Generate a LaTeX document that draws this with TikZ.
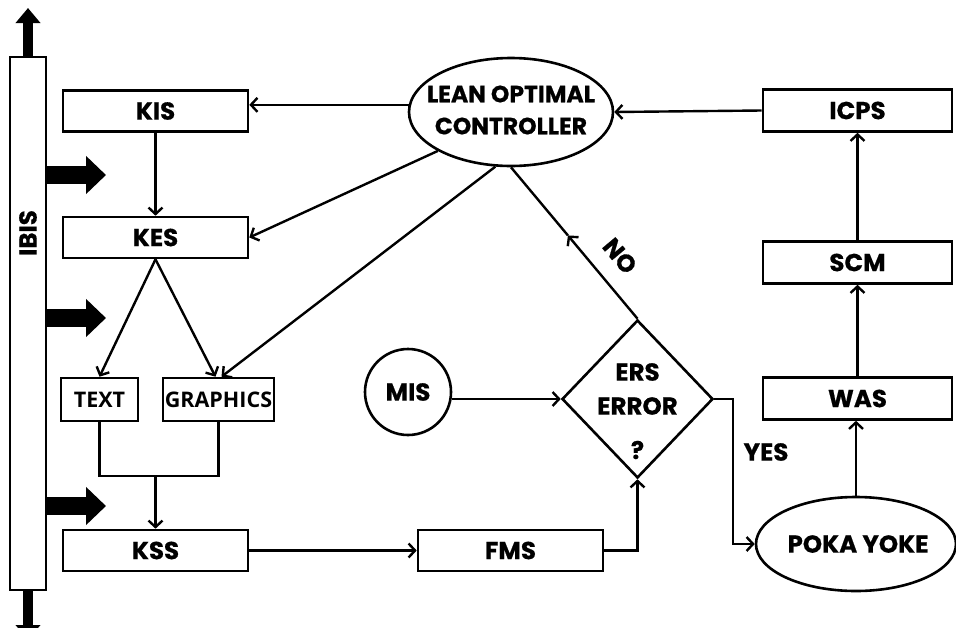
\documentclass[tikz,border=0pt]{standalone}
\usepackage{fontspec}
\setmainfont{Poppins}[BoldFeatures={FakeBold=0.6}]
\newfontfamily\osans{Open Sans}
\usetikzlibrary{shapes.geometric,arrows.meta,calc}
\begin{document}
\begin{tikzpicture}[x=1pt,y=-1pt,line width=2.4pt,
  lbl/.style={font=\fontsize{24.5}{28}\selectfont\bfseries},
  box/.style={draw,line width=2.6pt,minimum width=185pt,minimum height=41pt,inner sep=0pt,lbl},
  rbox/.style={box,minimum width=189pt,minimum height=42pt},
  sbox/.style={draw,line width=2.6pt,minimum height=43pt,inner sep=0pt,font=\osans\fontsize{21.5}{25}\selectfont\bfseries},
  oval/.style={draw,ellipse,line width=2.6pt,inner sep=0pt,lbl},
  arr/.style={-{Straight Barb[length=6.5pt,width=14pt,line width=2.4pt]}},
  fat/.style={line width=18pt,-{Triangle[length=20pt,width=37pt]}},
  vfat/.style={line width=10pt,-{Triangle[length=15pt,width=24pt]}},
]
\useasboundingbox (0,0) rectangle (956,627);
% IBIS bar
\node[draw,line width=2.6pt,minimum width=36pt,minimum height=533pt,inner sep=0pt] (ibis) at (28,323.5) {};
\node[lbl,rotate=90] (ibist) at (28,233) {IBIS};
\draw[vfat] (ibis.north) -- (28,8);
\draw[vfat] (ibis.south) -- (28,640);
\coordinate (f1) at (106,175);
\coordinate (f2) at (106,318);
\coordinate (f3) at (106,506);
\draw[fat] (ibis.east |- f1) -- (f1);
\draw[fat] (ibis.east |- f2) -- (f2);
\draw[fat] (ibis.east |- f3) -- (f3);
% left column
\node[box] (kis) at (155.5,111) {KIS};
\node[box] (kes) at (155.5,237.5) {KES};
\node[sbox,minimum width=77pt] (text) at (99.5,399.5) {TEXT};
\node[sbox,minimum width=111pt] (graphics) at (218.5,399.5) {GRAPHICS};
\node[box] (kss) at (155.5,550.5) {KSS};
\node[box] (fms) at (510.5,550.5) {FMS};
% centre
\node[oval,minimum width=204pt,minimum height=108pt] (loc) at (511,112) {};
\node[lbl,font=\fontsize{23.5}{28}\selectfont\bfseries] (loc1) at (511,94) {LEAN OPTIMAL};
\node[lbl,font=\fontsize{23.5}{28}\selectfont\bfseries] (loc2) at (511,126) {CONTROLLER};
\node[draw,circle,line width=2.6pt,minimum size=86pt,inner sep=0pt,lbl] (mis) at (408,392) {MIS};
\node[draw,diamond,line width=2.6pt,minimum width=151pt,minimum height=158pt,inner sep=0pt] (dia) at (637.5,399) {};
\node[lbl] (ers) at (637.5,372) {ERS};
\node[lbl] (err) at (637.5,406) {ERROR};
\node[lbl] (q) at (637.5,450) {?};
% right column
\node[rbox] (icps) at (857.5,110.5) {ICPS};
\node[rbox] (scm) at (857.5,262.5) {SCM};
\node[rbox] (was) at (857.5,398.5) {WAS};
\node[oval,minimum width=200pt,minimum height=94pt] (poka) at (856,544) {};
\node[lbl] (pokat) at (858,544) {POKA YOKE};
% connectors
\draw[arr] (loc.176) -- (kis.east |- loc.176);
\draw[arr] (loc.208) -- (kes.east);
\draw[arr] (loc.254) -- ([xshift=3pt]graphics.north);
\draw[arr] (kis.south) -- (kes.south |- kis.south) -- (kes.north);
\draw[arr] (kes.south) -- (text.north);
\draw[arr] (kes.south) -- ([xshift=-3pt]graphics.north);
\coordinate (j) at (155.5,476);
\draw (text.south) -- (text.south |- j) -- (graphics.south |- j) -- (graphics.south);
\draw[arr] (j) -- (kss.north);
\draw[arr] (kss.east) -- (fms.west);
\draw[arr] (fms.east) -| (dia.south);
\draw[arr] (mis.east |- dia.west) -- (dia.west);
\coordinate (mid) at ($(dia.north)!0.55!(loc.south)$);
\draw[arr] (dia.north) -- (mid);
\draw (mid) -- (loc.south);
\node[lbl,rotate=-50] (no) at (620,256) {NO};
\coordinate (yr) at (733,399);
\draw[arr] (dia.east) -- (yr) -- (yr |- poka.west) -- (poka.west);
\node[lbl] (yes) at (766,452) {YES};
\draw[arr] (poka.north) -- (poka.north |- was.south);
\draw[arr] (was.north) -- (scm.south);
\draw[arr] (scm.north) -- (icps.south);
\draw[arr] (icps.west) -- (loc.east);
\end{tikzpicture}
\end{document}
